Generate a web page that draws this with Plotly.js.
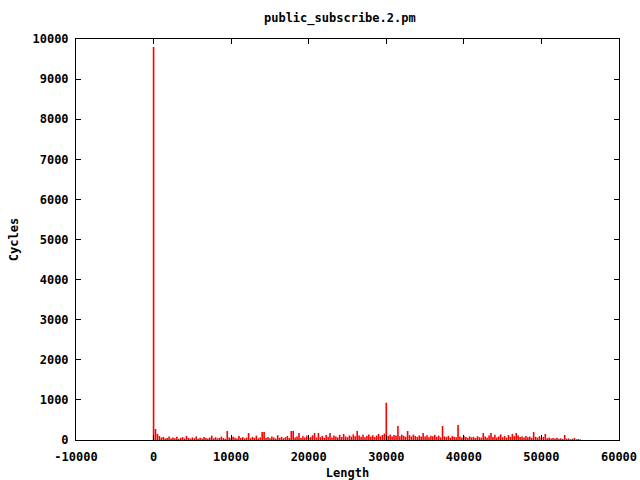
<!DOCTYPE html>
<html>
<head>
<meta charset="utf-8">
<script src="https://cdn.plot.ly/plotly-3.0.1.min.js"></script>
<style>html,body{margin:0;padding:0;background:#fff}#chart{width:640px;height:480px}</style>
</head>
<body>
<div id="chart"></div>
<script>
var chartTitle = "public_subscribe.2.pm";
var xLabel = "Length";
var yLabel = "Cycles";
var xTickVals = [-10000, 0, 10000, 20000, 30000, 40000, 50000, 60000];
var xTickText = ["-10000", "0", "10000", "20000", "30000", "40000", "50000", "60000"];
var yTickVals = [0, 1000, 2000, 3000, 4000, 5000, 6000, 7000, 8000, 9000, 10000];
var yTickText = ["0", "1000", "2000", "3000", "4000", "5000", "6000", "7000", "8000", "9000", "10000"];
var binStart = 0;
var binWidth = 250;
var cycles = [
  9800, 275, 150, 100, 60, 75, 40, 50, 90, 35, 60, 45, 80, 30, 55, 70, 40, 100, 50, 35,
  65, 45, 90, 30, 55, 40, 75, 50, 35, 60, 110, 45, 70, 40, 55, 85, 50, 30, 225, 60,
  45, 80, 55, 35, 100, 50, 70, 40, 60, 175, 45, 80, 55, 110, 40, 65, 200, 200, 50, 75,
  45, 90, 60, 35, 120, 55, 80, 45, 70, 100, 50, 225, 225, 60, 85, 175, 50, 95, 65, 110,
  55, 80, 120, 175, 60, 175, 70, 100, 55, 125, 80, 175, 65, 110, 85, 60, 130, 75, 150, 90,
  70, 115, 85, 140, 95, 225, 110, 80, 130, 70, 100, 140, 85, 120, 75, 110, 150, 90, 125, 160,
  930, 100, 140, 85, 125, 110, 350, 95, 130, 105, 80, 225, 120, 90, 135, 100, 75, 115, 90, 175,
  85, 120, 70, 105, 95, 130, 80, 110, 65, 350, 90, 75, 105, 60, 95, 80, 70, 375, 85, 60,
  100, 75, 55, 90, 65, 80, 50, 95, 70, 60, 175, 85, 55, 110, 175, 75, 130, 60, 90, 140,
  70, 105, 60, 125, 80, 150, 95, 175, 110, 75, 90, 60, 100, 70, 85, 55, 200, 80, 60, 95,
  50, 75, 150, 45, 60, 35, 50, 40, 55, 30, 45, 25, 125, 35, 40, 20, 30, 50, 20, 25, 15
];
var lengths = cycles.map(function(_, i){ return binStart + i * binWidth; });

// impulses: vertical segments from 0 to each value, separated by gaps
var impX = [], impY = [];
lengths.forEach(function(x, i){ impX.push(x, x, null); impY.push(0, cycles[i], null); });

var boldFont = {family: "DejaVu Sans Mono", size: 12, color: "#000", weight: "bold"};
var axisCommon = {
  showline: true, linecolor: "#000", linewidth: 1, mirror: "ticks",
  ticks: "inside", ticklen: 5, tickcolor: "#000", tickwidth: 1,
  showgrid: false, zeroline: false, automargin: false,
  tickfont: boldFont
};

var trace = {
  type: "scatter", mode: "lines", x: impX, y: impY, connectgaps: false,
  line: {color: "#ff0000", width: 1.6},
  hoverinfo: "skip"
};

var layout = {
  width: 640, height: 480,
  margin: {l: 76, r: 21, t: 39, b: 40},
  paper_bgcolor: "#fff", plot_bgcolor: "#fff",
  showlegend: false,
  font: boldFont,
  title: {text: chartTitle, x: 0.531, xanchor: "center", y: 0.962, yanchor: "middle", font: boldFont},
  xaxis: Object.assign({}, axisCommon, {
    range: [-10000, 60000], tickmode: "array", tickvals: xTickVals, ticktext: xTickText,
    ticklabelstandoff: 6,
    title: {text: xLabel, standoff: 10, font: boldFont}
  }),
  yaxis: Object.assign({}, axisCommon, {
    range: [0, 10000], tickmode: "array", tickvals: yTickVals, ticktext: yTickText,
    ticklabelstandoff: 4,
    title: {text: yLabel, standoff: 11, font: boldFont}
  })
};

Plotly.newPlot("chart", [trace], layout, {displayModeBar: false, staticPlot: true});
</script>
</body>
</html>
